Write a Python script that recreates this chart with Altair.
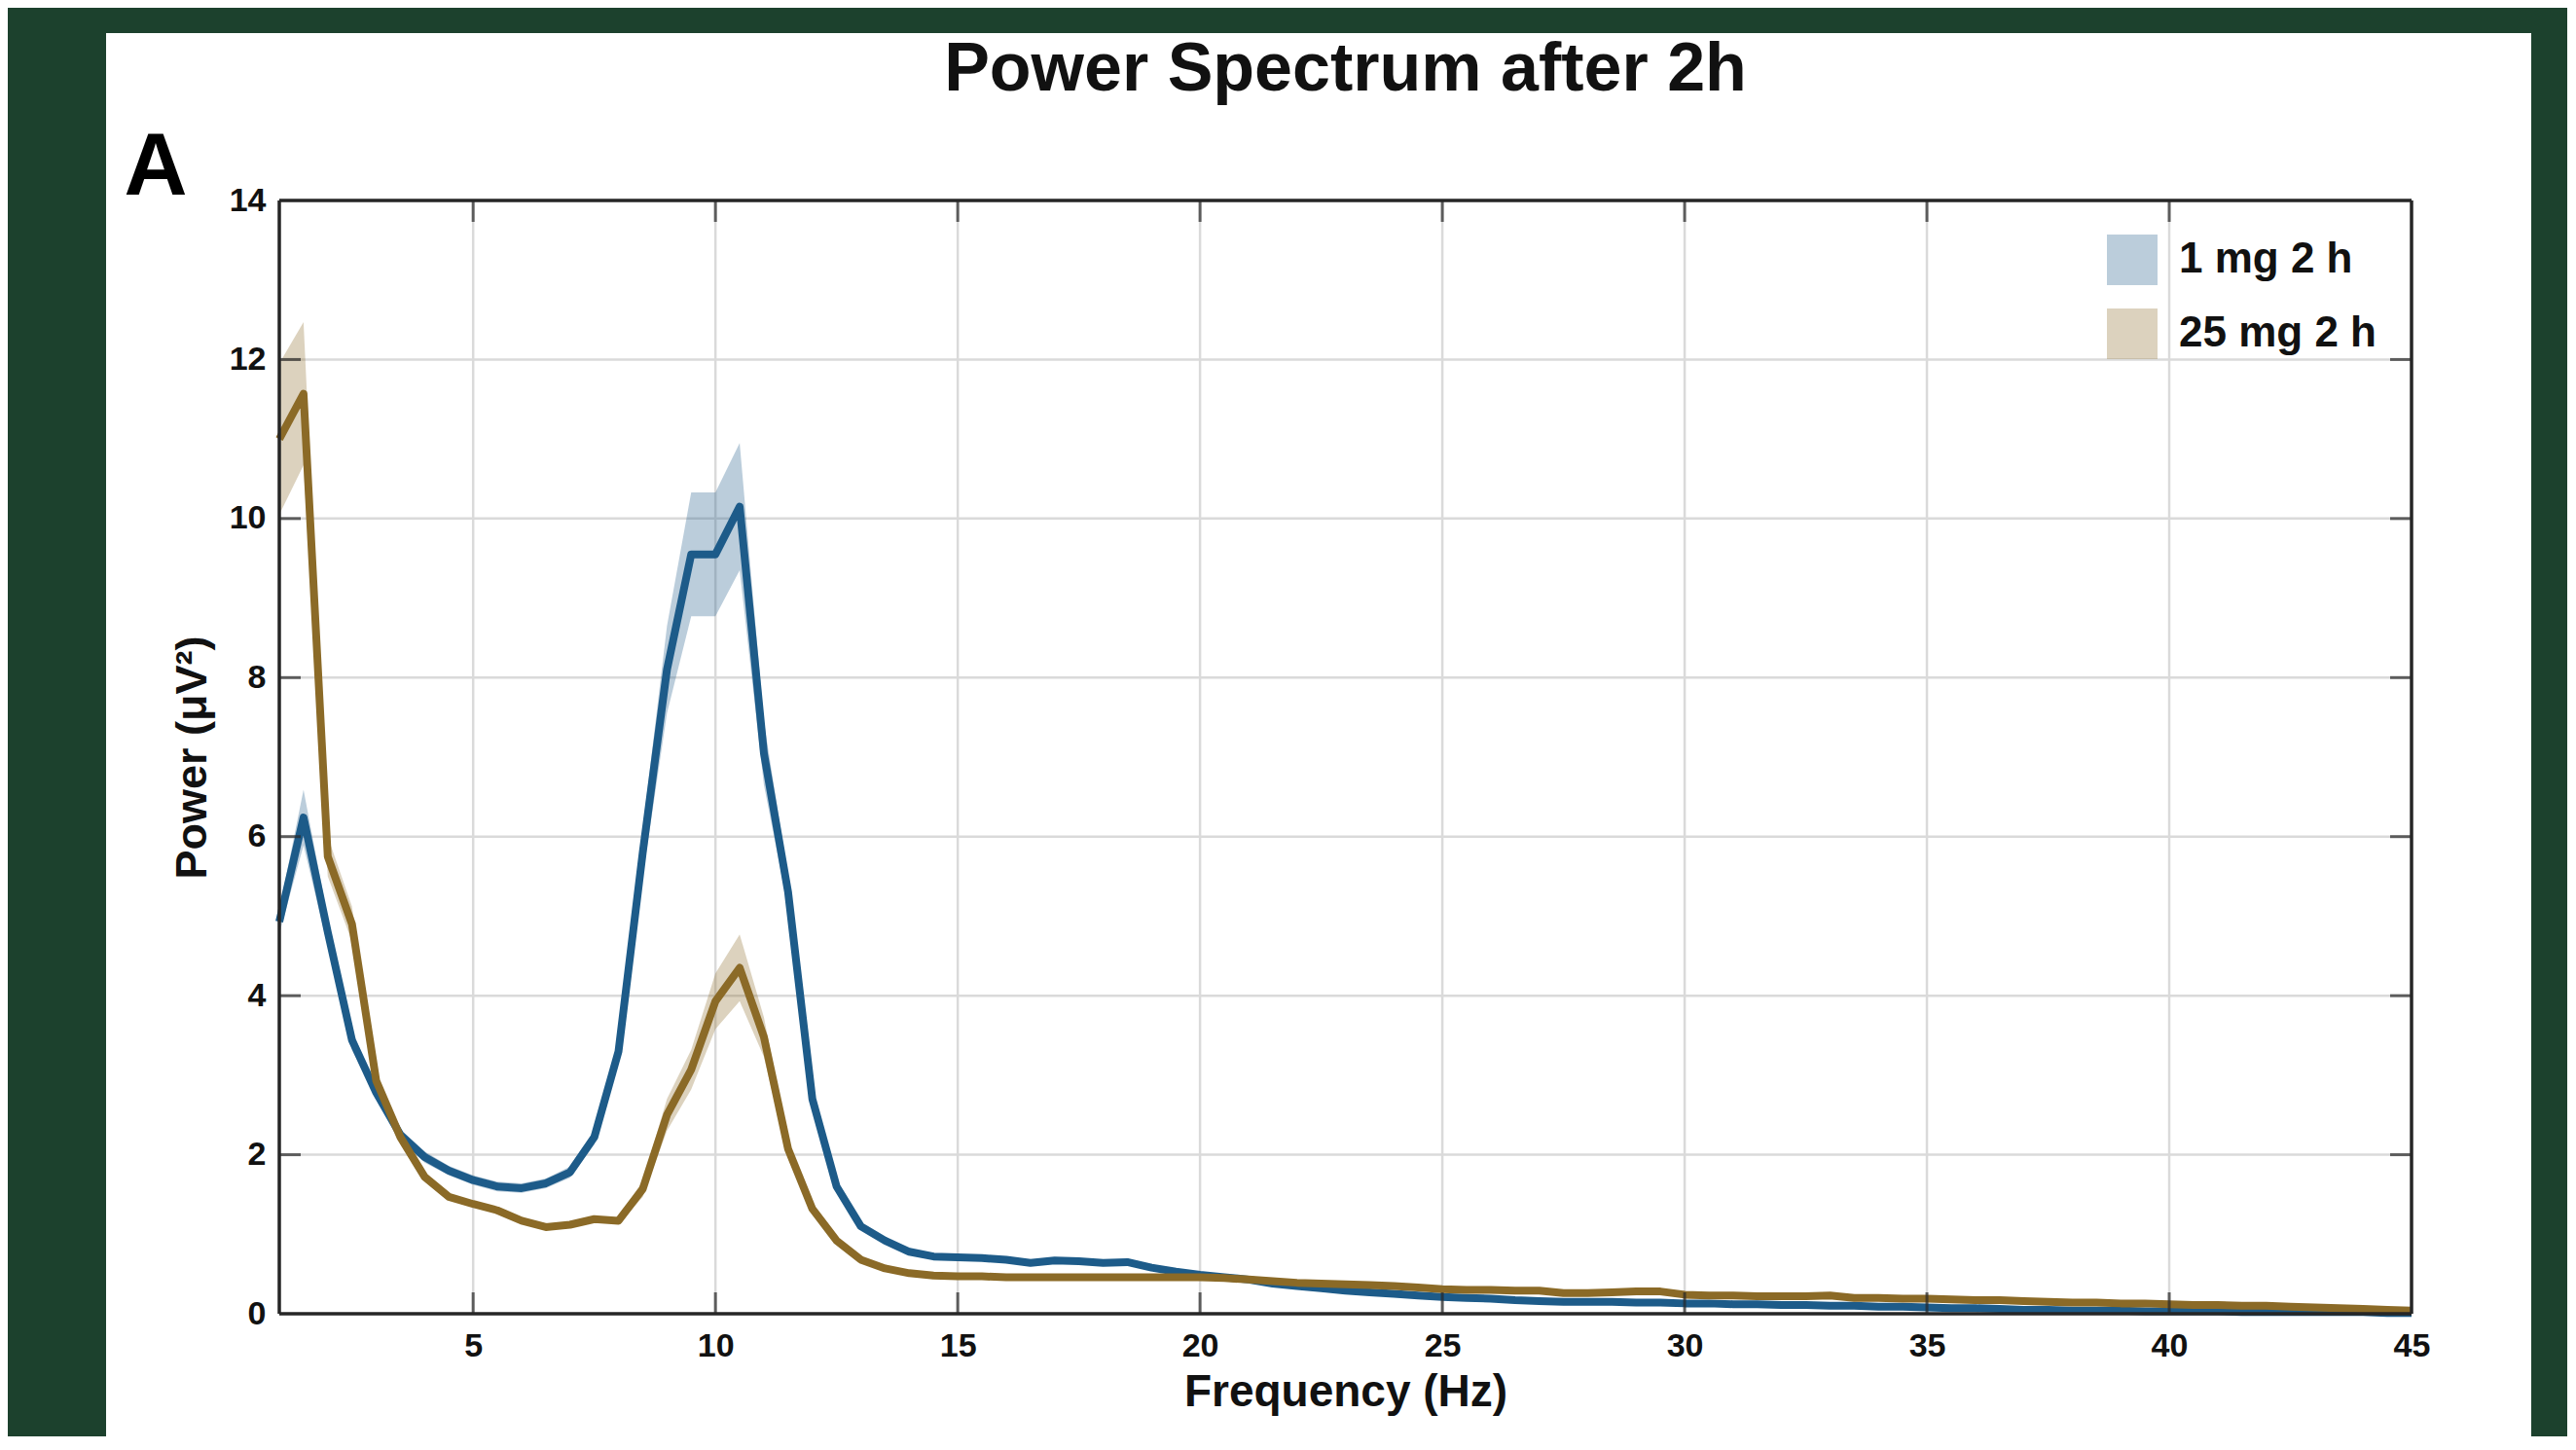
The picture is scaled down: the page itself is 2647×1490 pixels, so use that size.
import numpy as np
import pandas as pd
import altair as alt

# ---------------- data ----------------
groups = ["1 mg 2 h", "25 mg 2 h"]
line_colors = ["#1d5b89", "#8b6a27"]
chart_title = "Power Spectrum after 2h"
panel_letter = "A"

freq = np.arange(1.0, 45.01, 0.5)  # 0.5 Hz bins, 1..45 Hz

mean_1mg = [
    4.93, 6.24, 4.80, 3.44, 2.78, 2.25, 1.97, 1.80, 1.68, 1.60,
    1.58, 1.64, 1.78, 2.22, 3.30, 5.80, 8.10, 9.55, 9.55, 10.15,
    7.05, 5.30, 2.70, 1.60, 1.10, 0.92, 0.78, 0.72, 0.71, 0.70,
    0.68, 0.64, 0.67, 0.66, 0.64, 0.65, 0.58, 0.53, 0.49, 0.46,
    0.43, 0.38, 0.35, 0.32, 0.29, 0.27, 0.25, 0.23, 0.21, 0.20,
    0.19, 0.17, 0.16, 0.15, 0.15, 0.15, 0.14, 0.14, 0.13, 0.13,
    0.12, 0.12, 0.11, 0.11, 0.10, 0.10, 0.09, 0.09, 0.08, 0.07,
    0.07, 0.06, 0.05, 0.05, 0.04, 0.04, 0.04, 0.03, 0.03, 0.03,
    0.03, 0.02, 0.02, 0.02, 0.02, 0.02, 0.02, 0.01, 0.01,
]
sem_1mg = [
    0.15, 0.35, 0.18, 0.12, 0.08, 0.07, 0.07, 0.06, 0.06, 0.06,
    0.06, 0.06, 0.07, 0.09, 0.12, 0.30, 0.55, 0.78, 0.78, 0.80,
    0.40, 0.20, 0.10, 0.06, 0.04, 0.04, 0.04, 0.04, 0.04, 0.04,
    0.04, 0.04, 0.04, 0.04, 0.04, 0.04, 0.04, 0.04, 0.04, 0.03,
    0.03, 0.03, 0.03, 0.03, 0.03, 0.03, 0.03, 0.03, 0.03, 0.03,
    0.03, 0.03, 0.03, 0.03, 0.03, 0.03, 0.03, 0.03, 0.03, 0.03,
    0.03, 0.03, 0.03, 0.03, 0.03, 0.03, 0.03, 0.03, 0.03, 0.03,
    0.03, 0.03, 0.03, 0.03, 0.03, 0.03, 0.03, 0.03, 0.03, 0.03,
    0.03, 0.03, 0.03, 0.03, 0.03, 0.03, 0.03, 0.03, 0.03,
]
mean_25mg = [
    11.00, 11.57, 5.75, 4.90, 2.93, 2.22, 1.72, 1.47, 1.38, 1.30,
    1.17, 1.09, 1.12, 1.19, 1.17, 1.57, 2.50, 3.07, 3.93, 4.35,
    3.48, 2.07, 1.32, 0.92, 0.68, 0.57, 0.51, 0.48, 0.47, 0.47,
    0.46, 0.46, 0.46, 0.46, 0.46, 0.46, 0.46, 0.46, 0.46, 0.45,
    0.43, 0.41, 0.39, 0.38, 0.37, 0.36, 0.35, 0.33, 0.31, 0.30,
    0.30, 0.29, 0.29, 0.26, 0.26, 0.27, 0.28, 0.28, 0.24, 0.23,
    0.23, 0.22, 0.22, 0.22, 0.23, 0.20, 0.20, 0.19, 0.19, 0.18,
    0.17, 0.17, 0.16, 0.15, 0.14, 0.14, 0.13, 0.13, 0.12, 0.11,
    0.11, 0.10, 0.10, 0.09, 0.08, 0.07, 0.06, 0.05, 0.04,
]
sem_25mg = [
    0.95, 0.90, 0.25, 0.22, 0.10, 0.06, 0.05, 0.04, 0.04, 0.04,
    0.04, 0.04, 0.04, 0.04, 0.04, 0.10, 0.20, 0.25, 0.35, 0.42,
    0.25, 0.12, 0.06, 0.03, 0.03, 0.03, 0.03, 0.03, 0.03, 0.03,
    0.03, 0.03, 0.03, 0.03, 0.03, 0.03, 0.03, 0.03, 0.03, 0.03,
    0.03, 0.03, 0.03, 0.03, 0.03, 0.03, 0.03, 0.03, 0.03, 0.03,
    0.03, 0.03, 0.03, 0.03, 0.03, 0.03, 0.03, 0.03, 0.03, 0.03,
    0.03, 0.03, 0.03, 0.03, 0.03, 0.03, 0.03, 0.03, 0.03, 0.03,
    0.03, 0.03, 0.03, 0.03, 0.03, 0.03, 0.03, 0.03, 0.03, 0.03,
    0.03, 0.03, 0.03, 0.03, 0.03, 0.03, 0.03, 0.03, 0.03,
]

x_ticks = [5, 10, 15, 20, 25, 30, 35, 40, 45]
y_ticks = [0, 2, 4, 6, 8, 10, 12, 14]
x_domain = [1, 45]
y_domain = [0, 14]

# ---------------- tables ----------------
rows = []
for g, m, s in [(groups[0], mean_1mg, sem_1mg), (groups[1], mean_25mg, sem_25mg)]:
    for f, mv, sv in zip(freq, m, s):
        rows.append({"freq": float(f), "mean": mv, "lo": max(mv - sv, 0.0),
                     "hi": mv + sv, "group": g})
df = pd.DataFrame(rows)

vgrid = pd.DataFrame({"gx": [t for t in x_ticks if t < x_domain[1]]})
vgrid["gy0"] = y_domain[0]
vgrid["gy1"] = y_domain[1]
hgrid = pd.DataFrame({"gy": [t for t in y_ticks if 0 < t < y_domain[1]]})
hgrid["gx0"] = x_domain[0]
hgrid["gx1"] = x_domain[1]
frame = pd.DataFrame({
    "fx": [x_domain[0], x_domain[1], x_domain[0], x_domain[0]],
    "fx2": [x_domain[0], x_domain[1], x_domain[1], x_domain[1]],
    "fy": [y_domain[0], y_domain[0], y_domain[0], y_domain[1]],
    "fy2": [y_domain[1], y_domain[1], y_domain[0], y_domain[1]],
})
xt_bottom = pd.DataFrame({"tx": x_ticks[:-1], "ty": y_domain[0]})
xt_top = pd.DataFrame({"tx": x_ticks[:-1], "ty": y_domain[1]})
yt_left = pd.DataFrame({"ty": y_ticks[1:-1], "tx": x_domain[0]})
yt_right = pd.DataFrame({"ty": y_ticks[1:-1], "tx": x_domain[1]})

# ---------------- styling ----------------
FONT = "Liberation Sans"
INK = "#111111"
FRAME = "#262626"
GRID = "#dadada"
BG = "#1c412d"

W, H = 2191, 1144

xscale = alt.Scale(domain=x_domain, nice=False, zero=False)
yscale = alt.Scale(domain=y_domain, nice=False, zero=False)
xaxis = alt.Axis(values=x_ticks, grid=False, domain=False, ticks=False,
                 labelFont=FONT, labelFontSize=34, labelFontWeight="bold",
                 labelColor=INK, labelPadding=16, titleFont=FONT,
                 titleFontSize=46, titleFontWeight="bold", titleColor=INK,
                 titlePadding=8, zindex=1, labelFlush=False)
yaxis = alt.Axis(values=y_ticks, grid=False, domain=False, ticks=False,
                 labelFont=FONT, labelFontSize=34, labelFontWeight="bold",
                 labelColor=INK, labelPadding=14, titleFont=FONT,
                 titleFontSize=45, titleFontWeight="bold", titleColor=INK,
                 titlePadding=15, zindex=1, labelFlush=False)


def X(field):
    return alt.X(f"{field}:Q", scale=xscale, axis=xaxis, title="Frequency (Hz)")


def Y(field):
    return alt.Y(f"{field}:Q", scale=yscale, axis=yaxis, title="Power (μV²)")


panel = alt.Chart(alt.Data(values=[{"p": 1}])).mark_rect(color="white").encode(
    x=alt.value(-178), x2=alt.value(2314), y=alt.value(-172), y2=alt.value(1300)
)

vg = alt.Chart(vgrid).mark_rule(color=GRID, strokeWidth=2.5).encode(
    x=X("gx"), y=Y("gy0"), y2="gy1")
hg = alt.Chart(hgrid).mark_rule(color=GRID, strokeWidth=2.5).encode(
    y=Y("gy"), x=X("gx0"), x2="gx1")

band = alt.Chart(df).mark_area(opacity=0.3).encode(
    x=X("freq"), y=Y("lo"), y2="hi",
    fill=alt.Fill("group:N", scale=alt.Scale(domain=groups, range=line_colors),
                  legend=alt.Legend(orient="none", legendX=1878, legendY=35,
                                    title=None, symbolType="square",
                                    symbolSize=2704, symbolOpacity=0.3,
                                    symbolStrokeWidth=0, labelFont=FONT,
                                    labelFontSize=44, labelFontWeight="bold",
                                    labelColor=INK, labelOffset=22,
                                    labelLimit=600,
                                    rowPadding=24, padding=0, zindex=1)),
    detail="group:N",
)
lines = alt.Chart(df).mark_line(strokeWidth=8, strokeJoin="round").encode(
    x=X("freq"), y=Y("mean"),
    stroke=alt.Stroke("group:N", scale=alt.Scale(domain=groups, range=line_colors),
                      legend=None),
    detail="group:N",
)

fr = alt.Chart(frame).mark_rule(color=FRAME, strokeWidth=3.5).encode(
    x=X("fx"), x2="fx2", y=Y("fy"), y2="fy2")

tk_b = alt.Chart(xt_bottom).mark_tick(orient="vertical", size=22, thickness=3,
                                      color=FRAME, yOffset=-11).encode(x=X("tx"), y=Y("ty"))
tk_t = alt.Chart(xt_top).mark_tick(orient="vertical", size=22, thickness=3,
                                   color=FRAME, yOffset=11).encode(x=X("tx"), y=Y("ty"))
tk_l = alt.Chart(yt_left).mark_tick(orient="horizontal", size=22, thickness=3,
                                    color=FRAME, xOffset=11).encode(x=X("tx"), y=Y("ty"))
tk_r = alt.Chart(yt_right).mark_tick(orient="horizontal", size=22, thickness=3,
                                     color=FRAME, xOffset=-11).encode(x=X("tx"), y=Y("ty"))

panel_label = alt.Chart(alt.Data(values=[{"t": panel_letter}])).mark_text(
    font=FONT, fontSize=90, fontWeight="bold", color="black",
    align="center", baseline="alphabetic"
).encode(x=alt.value(-127), y=alt.value(-6), text="t:N")

title_text = alt.Chart(alt.Data(values=[{"t": chart_title}])).mark_text(
    font=FONT, fontSize=70, fontWeight="bold", color=INK,
    align="center", baseline="alphabetic"
).encode(x=alt.value(W / 2), y=alt.value(-113), text="t:N")

chart = alt.layer(
    panel, vg, hg, band, lines, fr, tk_b, tk_t, tk_l, tk_r, panel_label, title_text
).properties(
    width=W, height=H,
    padding={"left": 279, "top": 198, "right": 160, "bottom": 126},
    autosize=alt.AutoSizeParams(type="none"),
    background=BG,
).configure_view(stroke=None)

chart.save("out.html", embed_options={"renderer": "svg", "actions": False})
